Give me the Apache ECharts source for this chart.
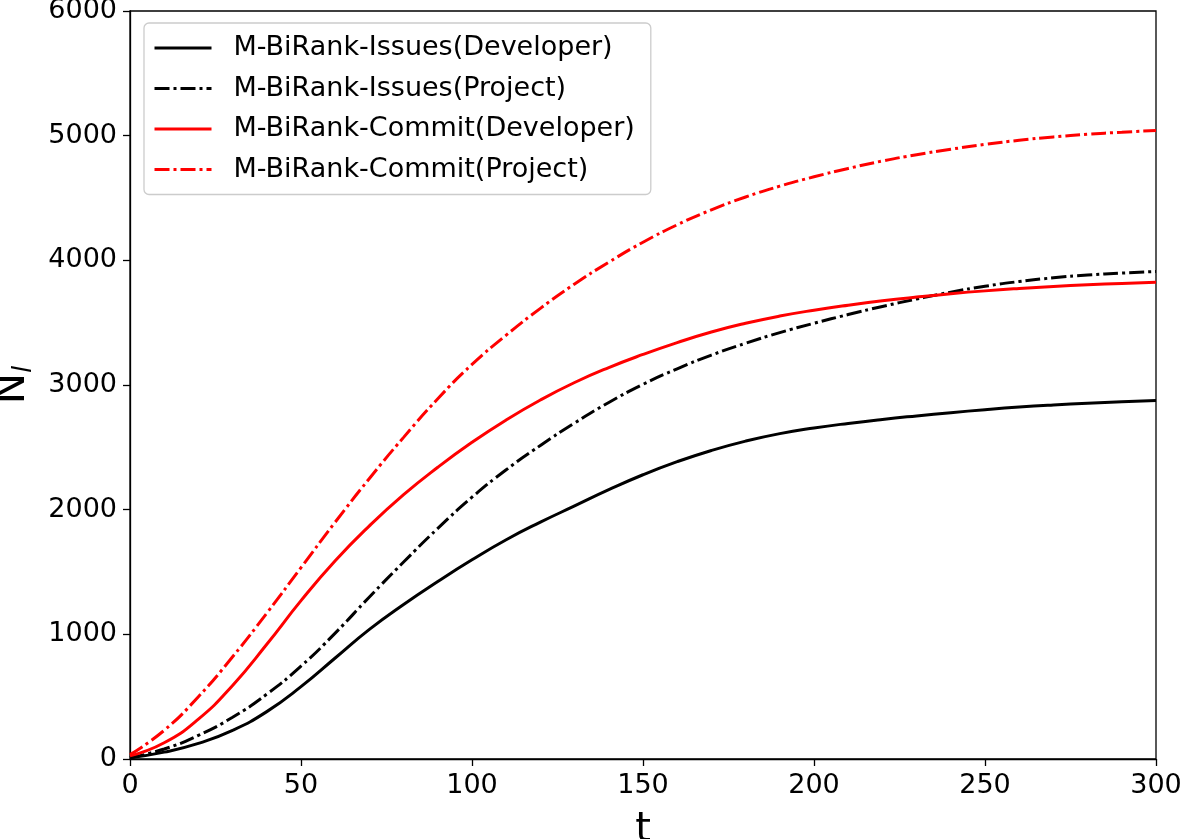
<!DOCTYPE html>
<html>
<head>
<meta charset="utf-8">
<script src="https://cdn.jsdelivr.net/npm/echarts@6/dist/echarts.min.js"></script>
<style>
  html, body { margin: 0; padding: 0; background: #fff; }
  #chart { width: 1181px; height: 839px; }
</style>
</head>
<body>
<div id="chart"></div>
<script>
// time steps
const tValues = [0, 10, 20, 30, 40, 50, 60, 70, 80, 90, 100, 110, 120, 130, 140, 150,
                 160, 170, 180, 190, 200, 210, 220, 230, 240, 250, 260, 270, 280, 290, 300];

const issuesDeveloper = [10, 55, 125, 230, 380, 580, 810, 1040, 1240, 1424, 1598, 1759, 1900, 2030, 2160, 2280,
                         2385, 2475, 2550, 2610, 2655, 2692, 2724, 2752, 2778, 2802, 2823, 2840, 2854, 2866, 2876];
const issuesProject = [10, 80, 190, 335, 520, 745, 1010, 1300, 1580, 1850, 2100, 2320, 2515, 2695, 2860, 3005,
                       3130, 3240, 3335, 3420, 3495, 3565, 3630, 3690, 3745, 3792, 3830, 3860, 3882, 3898, 3910];
const commitDeveloper = [25, 130, 320, 590, 920, 1270, 1590, 1870, 2120, 2340, 2540, 2720, 2880, 3020, 3140, 3245,
                         3340, 3425, 3495, 3553, 3600, 3640, 3675, 3705, 3732, 3755, 3774, 3790, 3804, 3815, 3825];
const commitProject = [35, 230, 500, 820, 1170, 1535, 1900, 2250, 2580, 2890, 3165, 3400, 3615, 3810, 3985, 4145,
                       4285, 4405, 4508, 4595, 4670, 4737, 4797, 4847, 4891, 4930, 4963, 4990, 5011, 5028, 5041];

const seriesNames = [
    'M-BiRank-Issues(Developer)',
    'M-BiRank-Issues(Project)',
    'M-BiRank-Commit(Developer)',
    'M-BiRank-Commit(Project)',
];

const FONT = '"DejaVu Sans", sans-serif';
const DASHDOT = [15, 4, 3, 4];

function pairs(vals) {
    return tValues.map((t, i) => [t, vals[i]]);
}

function lineSeries(name, vals, color, dashed) {
    return {
        name,
        type: 'line',
        data: pairs(vals),
        symbol: 'none',
        smooth: true,
        lineStyle: { color, width: 3, type: dashed ? DASHDOT : 'solid', cap: 'butt' },
        itemStyle: { color },
        emphasis: { disabled: true },
    };
}

const chart = echarts.init(document.getElementById('chart'), null, { renderer: 'canvas' });

chart.setOption({
    animation: false,
    backgroundColor: '#fff',
    textStyle: { fontFamily: FONT },
    grid: {
        left: 130, right: 25, top: 11, bottom: 80,
        outerBoundsMode: 'none',
        containLabel: false,
        show: true, borderColor: '#000', borderWidth: 1.3, backgroundColor: 'transparent',
    },
    legend: {
        orient: 'vertical',
        left: 144, top: 23,
        padding: [10, 16, 10, 9],
        backgroundColor: '#fff',
        borderColor: '#ccc', borderWidth: 1.3, borderRadius: 5,
        itemWidth: 57, itemHeight: 14, itemGap: 10.5,
        itemStyle: { opacity: 0 },
        lineStyle: { width: 3 },
        textStyle: { fontFamily: FONT, fontSize: 27, color: '#000', lineHeight: 30, padding: [0, 0, 0, 17] },
        data: seriesNames,
    },
    xAxis: {
        type: 'value',
        min: 0, max: 300, interval: 50,
        name: 't',
        nameLocation: 'middle',
        nameGap: 52,
        nameTextStyle: { fontFamily: FONT, fontSize: 40, color: '#000' },
        axisLine: { show: true, lineStyle: { color: '#000', width: 1.3 } },
        axisTick: { show: true, inside: false, length: 7, lineStyle: { color: '#000', width: 1.3 } },
        axisLabel: { fontFamily: FONT, fontSize: 27, color: '#000', margin: 13 },
        splitLine: { show: false },
    },
    yAxis: {
        type: 'value',
        min: 0, max: 6000, interval: 1000,
        name: '{n|N}{s|l}',
        nameLocation: 'middle',
        nameRotate: 90,
        nameGap: 88,
        nameTextStyle: {
            rich: {
                n: { fontFamily: FONT, fontSize: 42, color: '#000' },
                s: { fontFamily: FONT, fontSize: 26, fontStyle: 'italic', color: '#000', verticalAlign: 'bottom', padding: [22, 0, 0, 0] },
            },
        },
        axisLine: { show: true, lineStyle: { color: '#000', width: 1.3 } },
        axisTick: { show: true, inside: false, length: 7, lineStyle: { color: '#000', width: 1.3 } },
        axisLabel: { fontFamily: FONT, fontSize: 27, color: '#000', margin: 13, formatter: (v) => String(v) },
        splitLine: { show: false },
    },
    series: [
        lineSeries(seriesNames[0], issuesDeveloper, '#000', false),
        lineSeries(seriesNames[1], issuesProject, '#000', true),
        lineSeries(seriesNames[2], commitDeveloper, '#ff0000', false),
        lineSeries(seriesNames[3], commitProject, '#ff0000', true),
    ],
});
</script>
</body>
</html>
